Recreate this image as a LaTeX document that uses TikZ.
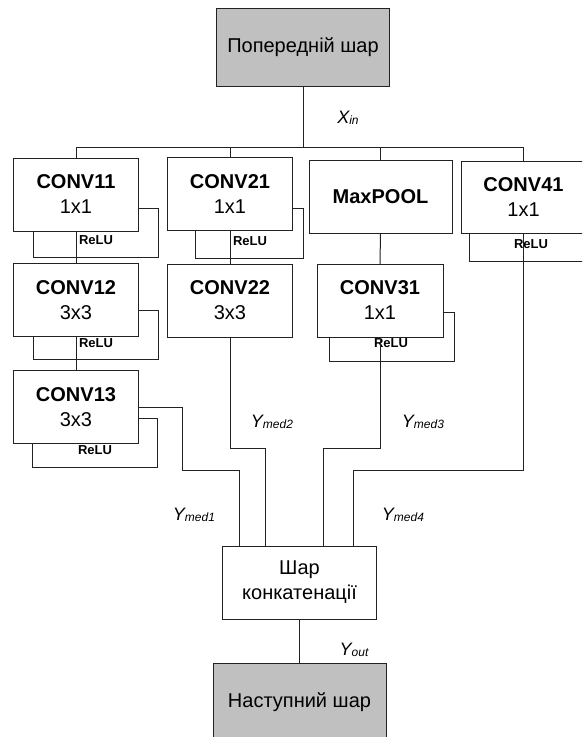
\documentclass[tikz,border=0pt]{standalone}
\usepackage{fontspec}
\setmainfont{Liberation Sans}
\usetikzlibrary{calc}
\definecolor{laygray}{HTML}{C0C0C0}
\definecolor{wirecol}{HTML}{222222}
\newcommand\symsub[2]{#1\raisebox{-1.5pt}{\fontsize{12}{12}\selectfont #2}}
\tikzset{
  wire/.style={line width=1pt, draw=wirecol},
  layerbox/.style={wire, fill=laygray, minimum width=173pt, minimum height=78pt,
    inner sep=0pt, outer sep=0pt, align=center, font=\fontsize{20}{24}\selectfont},
  convbox/.style={wire, fill=white, minimum width=125pt, minimum height=73pt,
    inner sep=0pt, outer sep=0pt, align=center, font=\fontsize{20}{25}\selectfont},
  relutag/.style={inner sep=0pt, font=\bfseries\fontsize{13}{13}\selectfont},
  sigtag/.style={inner sep=0pt, font=\itshape\fontsize{18}{18}\selectfont}
}
\begin{document}
\begin{tikzpicture}[x=1pt, y=-1pt]
\useasboundingbox (0,0) rectangle (582,737);
\clip (0,0) rectangle (582,737);

% input / output layers
\node[layerbox] (prev) at (303,47) {Попередній шар};
\node[layerbox] (next) at (299.5,702) {Наступний шар};

% inception branches
\node[convbox] (conv11) at (76,194.5) {\textbf{CONV11}\\1x1};
\node[convbox] (conv12) at (76,300) {\textbf{CONV12}\\3x3};
\node[convbox] (conv13) at (76,407) {\textbf{CONV13}\\3x3};
\node[convbox] (conv21) at (230,194) {\textbf{CONV21}\\1x1};
\node[convbox] (conv22) at (230,300.5) {\textbf{CONV22}\\3x3};
\node[convbox, minimum width=143pt] (maxpool) at (380.5,196.5) {\textbf{MaxPOOL}};
\node[convbox, minimum width=126pt] (conv31) at (380,300.5) {\textbf{CONV31}\\1x1};
\node[convbox, minimum height=72pt] (conv41) at (523.5,197) {\textbf{CONV41}\\1x1};

% concatenation
\node[convbox, minimum width=154pt] (concat) at (299.5,582.5) {Шар\\конкатенації};

% input bus
\draw[wire] (prev.south) -- (prev.south |- 0,147);
\draw[wire] (conv11.north |- 0,147) -- (conv41.north |- 0,147);
\foreach \b in {conv11,conv21,maxpool,conv41}
  \draw[wire] (\b.north) -- (\b.north |- 0,147);

% chains inside branches
\draw[wire] (conv11.south) -- (conv12.north);
\draw[wire] (conv12.south) -- (conv13.north);
\draw[wire] (conv21.south) -- (conv22.north);
\draw[wire] (maxpool.south) -- (conv31.north);

% ReLU loops
\draw[wire] (conv11.east |- 0,208) -| (158,257) -| (conv11.south -| 33,0);
\node[relutag] (r11) at (96,240) {ReLU};
\draw[wire] (conv12.east |- 0,310) -| (158,359) -| (conv12.south -| 33,0);
\node[relutag] (r12) at (96,343) {ReLU};
\draw[wire] (conv13.east |- 0,418) -| (157,467) -| (conv13.south -| 32,0);
\node[relutag] (r13) at (95,450) {ReLU};
\draw[wire] (conv21.east |- 0,208) -| (303,258) -| (conv21.south -| 195,0);
\node[relutag] (r21) at (250,241) {ReLU};
\draw[wire] (conv31.east |- 0,312) -| (454,361) -| (conv31.south -| 329,0);
\node[relutag] (r31) at (391,343) {ReLU};
\draw[wire] (conv41.south -| 469,0) |- (600,261);
\node[relutag] (r41) at (531,244) {ReLU};

% branch outputs into concatenation
\draw[wire] (conv13.east |- 0,407) -| (182,470) -| (concat.north -| 239,0);
\draw[wire] (conv22.south) |- (265,448) -- (concat.north -| 265,0);
\draw[wire] (conv31.south) |- (323,448) -- (concat.north -| 323,0);
\draw[wire] (conv41.south) |- (353,470) -- (concat.north -| 353,0);
\draw[wire] (concat.south) -- (next.north);

% signal names
\node[sigtag] (xin) at (348,118) {\symsub{X}{in}};
\node[sigtag] (ym1) at (194,515) {\symsub{Y}{med1}};
\node[sigtag] (ym2) at (272,422) {\symsub{Y}{med2}};
\node[sigtag] (ym3) at (423,422) {\symsub{Y}{med3}};
\node[sigtag] (ym4) at (403,515) {\symsub{Y}{med4}};
\node[sigtag] (yout) at (354,650) {\symsub{Y}{out}};
\end{tikzpicture}
\end{document}
